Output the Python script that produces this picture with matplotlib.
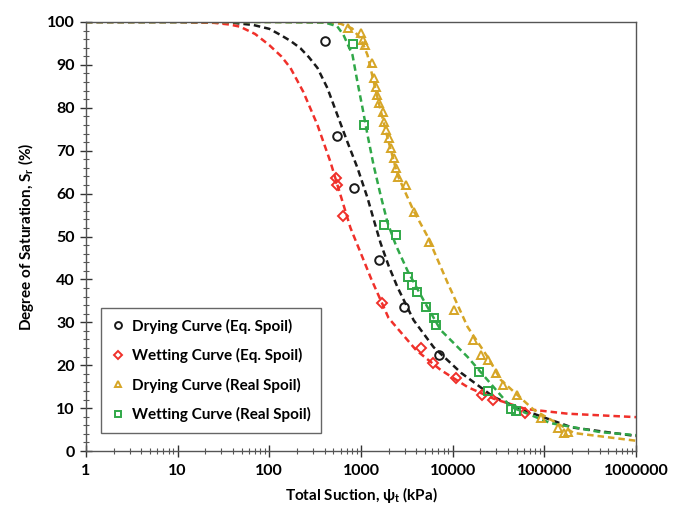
import matplotlib
matplotlib.use("Agg")
import matplotlib.pyplot as plt
from matplotlib.ticker import FixedLocator, FuncFormatter, MultipleLocator

plt.rcParams["font.family"] = ["Lato", "DejaVu Sans"]
plt.rcParams["mathtext.fontset"] = "custom"
plt.rcParams["mathtext.bf"] = "Lato:bold"
plt.rcParams["mathtext.rm"] = "Lato"

# measured points
dry_eq_x = [409, 553, 849, 1590, 2913, 7030]
dry_eq_y = [95.6, 73.4, 61.3, 44.5, 33.6, 22.4]

wet_eq_x = [540, 553, 644, 1675, 4560, 6100, 10800, 21000, 27500, 62000]
wet_eq_y = [63.6, 62.0, 54.8, 34.5, 24.0, 20.5, 17.0, 13.1, 11.9, 8.9]

dry_real_x = [730, 988, 1065, 1120, 1335, 1370, 1440, 1514, 1592, 1718, 1762, 1853,
              2000, 2100, 2265, 2383, 2506, 3060, 3750, 5460, 10260, 16500, 20200,
              24100, 29400, 35000, 50500, 92000, 140000, 163000, 180000]
dry_real_y = [98.6, 97.4, 95.8, 94.6, 90.4, 87.0, 84.8, 83.0, 81.1, 79.0, 76.7, 74.8,
              73.0, 70.6, 68.3, 66.0, 63.9, 62.0, 55.7, 48.7, 32.9, 25.9, 22.4,
              21.2, 18.2, 15.4, 13.1, 7.7, 5.4, 4.2, 4.4]

wet_real_x = [822, 1090, 1762, 2385, 3222, 3620, 4070, 5070, 6330, 6500, 19200, 24000,
              43000, 48500]
wet_real_y = [94.9, 76.0, 52.7, 50.3, 40.6, 38.7, 37.1, 33.6, 31.0, 29.4, 18.4, 14.0,
              9.8, 9.3]

# fitted curves
fit_dry_eq_x = [1, 10, 40, 67, 100, 132, 170, 218, 270, 335, 430, 553, 712, 915, 1178,
                1440, 1634, 2000, 2500, 3750, 6200, 12400, 28000, 60000, 200000, 1000000]
fit_dry_eq_y = [100, 100, 99.8, 99.3, 98.4, 97.0, 95.6, 93.9, 91.8, 89.3, 84.6, 78.3,
                72.0, 66.0, 59.0, 52.5, 48.5, 43.2, 38.2, 30.5, 24.2, 18.2, 12.6, 9.5,
                5.5, 3.5]

fit_wet_eq_x = [1, 10, 25, 37, 48, 70, 100, 135, 170, 235, 335, 464, 597, 768, 1000,
                1300, 2000, 4000, 7400, 14600, 28000, 62700, 180000, 1000000]
fit_wet_eq_y = [100, 100, 99.8, 99.4, 98.9, 97.2, 94.6, 92.0, 89.3, 83.7, 76.0, 67.4,
                59.7, 52.0, 46.0, 40.0, 31.0, 23.5, 18.9, 14.9, 12.2, 9.8, 8.7, 7.9]

fit_dry_real_x = [1, 100, 400, 597, 800, 1000, 1178, 1515, 1950, 2506, 3750, 5330, 8810,
                  14580, 24130, 33450, 76700, 210000, 1000000]
fit_dry_real_y = [100, 100, 99.9, 99.6, 98.5, 96.0, 92.3, 82.3, 73.0, 64.3, 56.0, 50.0,
                  39.2, 28.9, 21.9, 16.6, 9.6, 4.2, 2.4]

fit_wet_real_x = [1, 100, 400, 550, 644, 808, 915, 1038, 1178, 1370, 1634, 1950, 2400,
                  3222, 4800, 7400, 14600, 28000, 43000, 117000, 410000, 1000000]
fit_wet_real_y = [100, 100, 99.9, 99.0, 97.0, 92.3, 86.0, 80.0, 73.7, 66.7, 59.7, 53.2,
                  48.0, 42.0, 35.2, 28.2, 21.9, 14.9, 10.3, 6.5, 4.4, 3.7]

x_ticks = [1, 10, 100, 1000, 10000, 100000, 1000000]

c_black = "#1a1a1a"
c_red = "#f0302a"
c_gold = "#d6a526"
c_green = "#30a848"

fig = plt.figure(figsize=(6.76, 5.09), dpi=100)
ax = fig.add_axes([0.1272, 0.1139, 0.8136, 0.8429])

dash = (0, (2.6, 1.6))
ax.plot(fit_dry_eq_x, fit_dry_eq_y, color=c_black, lw=1.8, ls=dash, zorder=2)
ax.plot(fit_wet_eq_x, fit_wet_eq_y, color=c_red, lw=1.8, ls=dash, zorder=2)
ax.plot(fit_dry_real_x, fit_dry_real_y, color=c_gold, lw=1.8, ls=dash, zorder=2)
ax.plot(fit_wet_real_x, fit_wet_real_y, color=c_green, lw=1.8, ls=dash, zorder=2)

mk = dict(ls="none", mfc="none", mew=1.4, ms=6.2, zorder=3)
ax.plot(dry_eq_x, dry_eq_y, marker="o", mec=c_black, label="Drying Curve (Eq. Spoil)", **mk)
ax.plot(wet_eq_x, wet_eq_y, marker="D", mec=c_red, label="Wetting Curve (Eq. Spoil)",
        **{**mk, "ms": 5.4})
ax.plot(dry_real_x, dry_real_y, marker="^", mec=c_gold, label="Drying Curve (Real Spoil)", **mk)
ax.plot(wet_real_x, wet_real_y, marker="s", mec=c_green, label="Wetting Curve (Real Spoil)",
        **{**mk, "ms": 5.8})

ax.set_xscale("log")
ax.set_xlim(1, 1000000)
ax.set_ylim(0, 100)
ax.xaxis.set_major_locator(FixedLocator(x_ticks))
ax.xaxis.set_major_formatter(FuncFormatter(lambda v, p: f"{int(round(v))}"))
ax.yaxis.set_major_locator(MultipleLocator(10))
ax.yaxis.set_minor_locator(MultipleLocator(2))

ax.tick_params(which="major", direction="inout", length=9, width=1.0, colors="#333333",
               labelsize=11.5, labelcolor="black", top=False, right=False)
ax.tick_params(which="minor", direction="inout", length=5, width=0.8, colors="#555555",
               top=False, right=False)
ax.tick_params(axis="x", pad=5)
for lab in ax.get_xticklabels() + ax.get_yticklabels():
    lab.set_fontweight("bold")

for s in ax.spines.values():
    s.set_color("#555555")
    s.set_linewidth(1.0)

ax.set_xlabel("Total Suction, ψ$_\\mathbf{t}$ (kPa)", fontsize=11, fontweight="bold", labelpad=5)
ax.set_ylabel("Degree of Saturation, S$_\\mathbf{r}$ (%)", fontsize=11, fontweight="bold",
              labelpad=8)

leg = ax.legend(loc="lower left", bbox_to_anchor=(0.014, 0.024), fancybox=False,
                edgecolor="#666666", framealpha=1, handlelength=0.8, handletextpad=0.5,
                labelspacing=0.95, borderpad=0.7, markerscale=0.8,
                prop={"weight": "bold", "size": 11})
leg.get_frame().set_linewidth(1.0)

fig.savefig("out.png", dpi=100)
